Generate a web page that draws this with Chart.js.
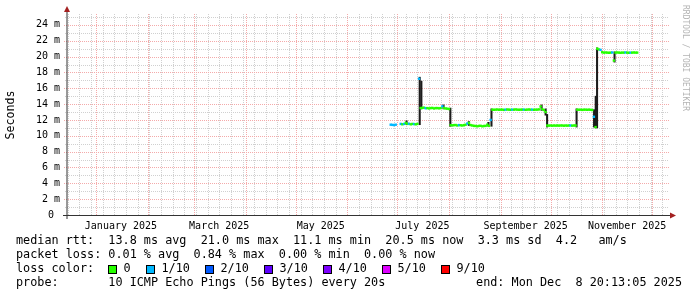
<!DOCTYPE html>
<html>
<head>
<meta charset="utf-8">
<script src="https://cdn.jsdelivr.net/npm/chart.js@4.4.1/dist/chart.umd.min.js"></script>
<style>
  html, body { margin: 0; padding: 0; background: #fff; }
  canvas { display: block; }
</style>
</head>
<body>
<canvas id="rtt" width="697" height="297"></canvas>
<script>
// x values are days since 1 Jan 2025
const X_MIN = -17.4;   // ~14 Dec 2024
const X_MAX = 342.9;   // end: Mon Dec 8 20:13:05 2025
const Y_MAX = 25.25;

// median rtt (ms), one value per day starting at firstDay (27 Jun 2025)
const firstDay = 177;
const medianMs = [
  11.40, 11.38, 11.35, 11.40, null, null, 11.50, 11.45, 11.50, 11.62,   // 177-186
  11.50, 11.52, 11.45, 11.50, 11.48, 11.45, 11.50, 17.20, 13.50, 13.52, // 187-196
  13.55, 13.48, 13.50, 13.45, 13.50, 13.52, 13.45, 13.50, 13.50, 13.47, // 197-206
  13.50, 13.72, 13.50, 13.45, 13.42, 13.38, 11.35, 11.32, 11.35, 11.36, // 207-216
  11.30, 11.35, 11.33, 11.30, 11.35, 11.40, 11.55, 11.62, 11.35, 11.30, // 217-226
  11.25, 11.24, 11.20, 11.25, 11.26, 11.20, 11.24, 11.25, 11.40, 11.25, // 227-236
  12.00, 13.30, 13.28, 13.30, 13.32, 13.28, 13.30, 13.30, 13.27, 13.30, // 237-246
  13.32, 13.30, 13.28, 13.30, 13.30, 13.33, 13.30, 13.28, 13.30, 13.30, // 247-256
  13.30, 13.28, 13.30, 13.32, 13.30, 13.30, 13.28, 13.30, 13.30, 13.33, // 257-266
  13.70, 13.35, 13.25, 13.00, 11.30, 11.28, 11.30, 11.27, 11.30, 11.28, // 267-276
  11.30, 11.28, 11.30, 11.30, 11.27, 11.30, 11.28, 11.30, 11.30, 11.28, // 277-286
  11.30, 11.30, 13.30, 13.28, 13.30, 13.27, 13.30, 13.30, 13.28, 13.30, // 287-296
  13.28, 13.25, 12.40, 11.10, 21.00, 20.90, 20.85, 20.55, 20.50, 20.52, // 297-306
  20.50, 20.48, 20.50, 20.52, 19.50, 20.50, 20.52, 20.50, 20.48, 20.50, // 307-316
  20.50, 20.52, 20.50, 20.48, 20.50, 20.50, 20.52, 20.50, 20.50         // 317-325
];
// days where the median got the 1/10 loss colour
const lossDays = [177, 178, 179, 180, 183, 185, 188, 191, 194, 198, 208, 218, 223,
                  237, 246, 250, 257, 262, 285, 299, 303, 310, 318, 321];

// smoke (ping spread) where it is wider than the median line
const smokeDays = [186.5, 194.4, 195.4, 208.7, 212.8, 223.9, 235.7, 237.5, 267.6, 270.0, 270.9, 288.6, 299.1, 300.1, 300.9, 311.4];
const smokeLo   = [11.4, 11.4, 13.4, 13.4, 11.2, 11.3, 11.2, 11.2, 13.2, 12.6, 11.1, 11.1, 11.1, 11.0, 11.0, 19.3];
const smokeHi   = [11.9, 17.4, 16.9, 13.9, 13.5, 11.8, 11.7, 13.4, 13.9, 13.4, 12.7, 13.4, 13.3, 15.0, 21.1, 20.6];

const monthLabels = ['January 2025', 'March 2025', 'May 2025', 'July 2025', 'September 2025', 'November 2025'];
const yTickValues = [0, 1, 2, 3, 4, 5, 6, 7, 8, 9, 10, 11, 12, 13, 14, 15, 16, 17, 18, 19, 20, 21, 22, 23, 24, 25];
const lossLabels = ['0', '1/10', '2/10', '3/10', '4/10', '5/10', '9/10'];
const lossColors = ['#26ff00', '#00b8ff', '#0059ff', '#5e00ff', '#7e00ff', '#dd00ff', '#ff0000'];
const statsLines = [
  'median rtt:  13.8 ms avg  21.0 ms max  11.1 ms min  20.5 ms now  3.3 ms sd  4.2   am/s',
  'packet loss: 0.01 % avg  0.84 % max  0.00 % min  0.00 % now'
];
const probeText = 'probe:       10 ICMP Echo Pings (56 Bytes) every 20s';
const endText = 'end: Mon Dec  8 20:13:05 2025';

const MONO = '"DejaVu Sans Mono", monospace';
const MINOR = 'rgb(208,208,208)';
const MAJOR = 'rgb(244,170,170)';
const ARROW = '#a32020';

const dayOf = (y, m, d) => (Date.UTC(y, m, d) - Date.UTC(2025, 0, 1)) / 86400000;

function buildXTicks() {
  const ticks = [];
  // weekly minor grid (Sundays)
  for (let d = dayOf(2024, 11, 15); d <= X_MAX; d += 7) ticks.push({ value: d, kind: 'week' });
  // monthly major grid
  for (let k = 0; k <= 12; k++) {
    const d = dayOf(2024, 11 + k, 1);
    if (d >= X_MIN && d <= X_MAX) ticks.push({ value: d, kind: 'month' });
  }
  // labels sit half a month in
  monthLabels.forEach((text, i) => ticks.push({ value: dayOf(2025, i * 2, 1) + 15, kind: 'label', text }));
  return ticks;
}
const xTicks = buildXTicks();

const medianPoints = [];
const medianColors = [];
medianMs.forEach((v, i) => {
  if (v === null) return;
  const d = firstDay + i;
  medianPoints.push({ x: d, y: v });
  medianColors.push(lossColors[lossDays.includes(d) ? 1 : 0]);
});

/* === dotted rrdtool grid, from the chart scales === */
const gridPlugin = {
  id: 'rrdGrid',
  beforeDatasetsDraw(chart) {
    const ctx = chart.ctx;
    const a = chart.chartArea;
    const xs = chart.scales.x;
    const ys = chart.scales.y;
    ctx.save();
    ctx.lineWidth = 1;
    ctx.setLineDash([1, 1]);
    const vLine = (t, color) => {
      const x = Math.round(xs.getPixelForValue(t.value)) + 0.5;
      ctx.strokeStyle = color;
      ctx.beginPath();
      ctx.moveTo(x, a.bottom);
      ctx.lineTo(x, a.top - 2);
      ctx.stroke();
    };
    xTicks.filter(t => t.kind === 'week').forEach(t => vLine(t, MINOR));
    xTicks.filter(t => t.kind === 'month').forEach(t => vLine(t, MAJOR));
    yTickValues.forEach(v => {
      const y = Math.round(ys.getPixelForValue(v)) + 0.5;
      ctx.strokeStyle = v % 2 ? MINOR : MAJOR;
      ctx.beginPath();
      ctx.moveTo(a.left - (v % 2 ? 2 : 3), y);
      ctx.lineTo(a.right + 2, y);
      ctx.stroke();
    });
    ctx.restore();
  }
};

/* === axes, arrows, side texts, smokeping legend === */
const framePlugin = {
  id: 'rrdFrame',
  afterDraw(chart) {
    const ctx = chart.ctx;
    const a = chart.chartArea;
    ctx.save();

    // axes
    ctx.strokeStyle = '#333';
    ctx.lineWidth = 1;
    ctx.beginPath();
    ctx.moveTo(a.left - 4, a.bottom + 0.5);
    ctx.lineTo(a.right + 4, a.bottom + 0.5);
    ctx.moveTo(a.left, a.bottom + 4);
    ctx.lineTo(a.left, a.top - 4);
    ctx.stroke();

    // arrows
    ctx.fillStyle = ARROW;
    ctx.beginPath();
    ctx.moveTo(a.right + 3, a.bottom - 2.5);
    ctx.lineTo(a.right + 9, a.bottom + 0.5);
    ctx.lineTo(a.right + 3, a.bottom + 3.5);
    ctx.closePath();
    ctx.fill();
    ctx.beginPath();
    ctx.moveTo(a.left - 3, a.top - 3);
    ctx.lineTo(a.left, a.top - 9);
    ctx.lineTo(a.left + 3, a.top - 3);
    ctx.closePath();
    ctx.fill();

    // y title
    ctx.fillStyle = '#000';
    ctx.font = '11.6px ' + MONO;
    ctx.textAlign = 'center';
    ctx.textBaseline = 'middle';
    ctx.save();
    ctx.translate(11, (a.top + a.bottom) / 2);
    ctx.rotate(-Math.PI / 2);
    ctx.fillText('Seconds', 0, 0);
    ctx.restore();

    // watermark
    ctx.save();
    ctx.fillStyle = '#b4b4b4';
    ctx.font = '8px ' + MONO;
    ctx.textAlign = 'left';
    ctx.translate(685, 5);
    ctx.rotate(Math.PI / 2);
    ctx.fillText('RRDTOOL / TOBI OETIKER', 0, 0);
    ctx.restore();

    // legend
    ctx.font = '11.8px ' + MONO;
    ctx.textAlign = 'left';
    ctx.fillStyle = '#000';
    ctx.fillText(statsLines[0], 16, 241);
    ctx.fillText(statsLines[1], 16, 255);
    ctx.fillText('loss color:', 16, 269);
    let bx = 108;
    lossLabels.forEach((lab, i) => {
      const x = Math.round(bx);
      ctx.fillStyle = lossColors[i];
      ctx.fillRect(x, 265, 8, 8);
      ctx.strokeStyle = '#000';
      ctx.strokeRect(x + 0.5, 265.5, 8, 8);
      ctx.fillStyle = '#000';
      const tx = x + 15.5;
      ctx.fillText(lab, tx, 269);
      bx = tx + ctx.measureText(lab).width + 15.5;
    });
    ctx.fillText(probeText, 16, 283);
    ctx.textAlign = 'right';
    ctx.fillText(endText, 682, 283);

    ctx.restore();
  }
};

const ctx = document.getElementById('rtt').getContext('2d');
new Chart(ctx, {
  type: 'scatter',
  data: {
    datasets: [
      {
        type: 'scatter',
        data: medianPoints,
        showLine: false,
        pointStyle: 'line',
        pointRadius: 1.2,
        pointHoverRadius: 1.2,
        pointBorderWidth: 2.4,
        pointBorderColor: medianColors,
        order: 1
      },
      {
        type: 'bar',
        data: smokeDays.map((d, i) => ({ x: d, y: [smokeLo[i], smokeHi[i]] })),
        backgroundColor: '#1c1c1c',
        borderWidth: 0,
        barThickness: 1.4,
        order: 2
      }
    ]
  },
  options: {
    responsive: false,
    animation: false,
    events: [],
    layout: { padding: { top: 15, right: 30, bottom: 0, left: 0 } },
    plugins: { legend: { display: false }, tooltip: { enabled: false } },
    scales: {
      x: {
        type: 'linear',
        min: X_MIN,
        max: X_MAX,
        offset: false,
        afterBuildTicks: s => { s.ticks = xTicks.map(t => Object.assign({}, t)); },
        afterFit: s => { s.height = 82; s.paddingLeft = 0; s.paddingRight = 0; },
        grid: { display: false, drawTicks: false },
        border: { display: false },
        ticks: {
          autoSkip: false,
          maxRotation: 0,
          padding: 5,
          color: '#000',
          font: { family: MONO, size: 10 },
          callback: (v, i) => xTicks[i].text || ''
        }
      },
      y: {
        type: 'linear',
        min: 0,
        max: Y_MAX,
        afterBuildTicks: s => { s.ticks = yTickValues.map(v => ({ value: v })); },
        afterFit: s => { s.width = 67; s.paddingTop = 0; s.paddingBottom = 0; },
        grid: { display: false, drawTicks: false },
        border: { display: false },
        ticks: {
          padding: 7,
          color: '#000',
          font: { family: MONO, size: 10 },
          callback: v => v % 2 ? '' : (v === 0 ? '0 ' : v + ' m')
        }
      }
    }
  },
  plugins: [gridPlugin, framePlugin]
});
</script>
</body>
</html>
